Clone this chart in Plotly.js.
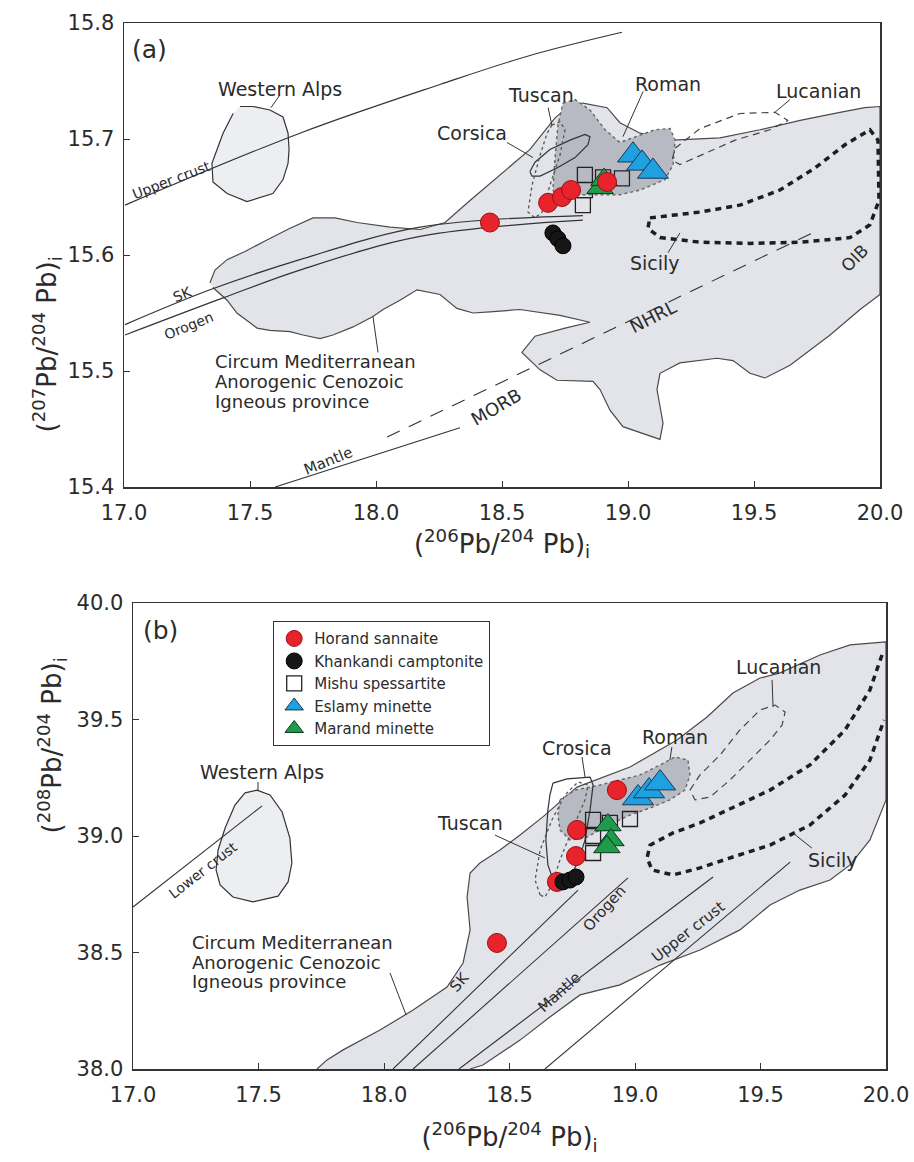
<!DOCTYPE html>
<html><head><meta charset="utf-8">
<script src="https://cdn.plot.ly/plotly-3.0.1.min.js"></script>
<style>html,body{margin:0;padding:0;background:#fff}#chart{width:914px;height:1162px}</style>
</head><body><div id="chart"></div>
<script>
// ---------- Panel (a): 207Pb/204Pb vs 206Pb/204Pb ----------
const fieldA_x = [17.341,17.361,17.409,17.480,17.567,17.659,17.750,17.837,17.925,18.056,18.175,18.274,18.373,18.492,18.611,18.710,18.758,18.821,18.917,18.968,19.048,19.179,19.365,19.524,19.683,19.841,19.940,20.0,
  20.0,19.921,19.802,19.643,19.544,19.484,19.417,19.353,19.206,19.127,19.115,19.139,19.127,18.980,18.929,18.889,18.861,18.718,18.651,18.579,18.631,18.750,18.849,18.730,18.571,18.452,18.385,18.321,18.254,18.163,18.095,18.028,17.988,17.909,17.829,17.778,17.710,17.659,17.579,17.528,17.448,17.409,17.353];
const fieldA_y = [15.576,15.587,15.596,15.603,15.613,15.623,15.632,15.632,15.628,15.624,15.622,15.628,15.647,15.669,15.691,15.718,15.727,15.731,15.727,15.714,15.705,15.699,15.701,15.708,15.716,15.723,15.727,15.728,
  15.566,15.553,15.531,15.505,15.494,15.498,15.509,15.511,15.507,15.498,15.484,15.455,15.441,15.452,15.466,15.484,15.491,15.492,15.501,15.516,15.530,15.537,15.542,15.548,15.553,15.551,15.550,15.554,15.566,15.570,15.561,15.553,15.547,15.538,15.531,15.528,15.531,15.534,15.535,15.537,15.550,15.561,15.572];
const alpsA_x = [17.460,17.512,17.579,17.631,17.651,17.655,17.651,17.631,17.591,17.488,17.409,17.353,17.349,17.369,17.393,17.433];
const alpsA_y = [15.728,15.728,15.725,15.719,15.705,15.691,15.679,15.665,15.653,15.646,15.653,15.663,15.679,15.691,15.705,15.722];
const romanA_x = [18.742,18.790,18.849,18.909,18.968,19.048,19.107,19.167,19.187,19.179,19.147,19.048,18.968,18.889,18.810,18.730,18.702,18.710,18.722,18.742];
const romanA_y = [15.731,15.734,15.725,15.708,15.697,15.703,15.708,15.709,15.699,15.678,15.665,15.656,15.652,15.652,15.652,15.647,15.656,15.682,15.712,15.731];
const corsicaA_x = [18.611,18.631,18.690,18.770,18.829,18.849,18.841,18.790,18.718,18.651,18.619,18.611];
const corsicaA_y = [15.672,15.680,15.691,15.699,15.704,15.702,15.695,15.684,15.675,15.668,15.668,15.672];
const tuscanA_x = [18.698,18.730,18.750,18.730,18.690,18.659,18.631,18.603,18.619,18.651,18.679,18.698];
const tuscanA_y = [15.712,15.715,15.708,15.686,15.660,15.637,15.632,15.637,15.660,15.686,15.705,15.712];
const lucanianA_x = [19.187,19.286,19.444,19.583,19.635,19.563,19.425,19.286,19.206,19.175,19.187];
const lucanianA_y = [15.692,15.709,15.722,15.723,15.716,15.708,15.699,15.686,15.678,15.682,15.692];
const sicilyA_x = [19.087,19.286,19.444,19.603,19.742,19.861,19.960,19.992,19.996,19.960,19.881,19.683,19.484,19.286,19.127,19.079,19.087];
const sicilyA_y = [15.632,15.637,15.643,15.656,15.675,15.695,15.708,15.699,15.647,15.626,15.615,15.611,15.610,15.611,15.615,15.623,15.632];
const upperCrustA_x = [17.004,17.698,18.254,18.611,18.976];
const upperCrustA_y = [15.643,15.705,15.747,15.772,15.792];
const skA_x = [17.004,17.341,17.698,18.175,18.821];
const skA_y = [15.540,15.570,15.596,15.624,15.634];
const orogenA_x = [17.004,17.393,17.698,18.175,18.821];
const orogenA_y = [15.531,15.563,15.587,15.616,15.630];
const mantleA_x = [17.600,18.333];
const mantleA_y = [15.400,15.451];
const nhrlA_x = [18.044,19.742];
const nhrlA_y = [15.443,15.620];
const leadersA_x = [17.583,17.619,null,18.520,18.623,null,18.683,18.698,null,19.060,18.980,null,19.643,19.583,null,19.159,19.206,null,17.988,18.008];
const leadersA_y = [15.727,15.738,null,15.697,15.684,null,15.727,15.712,null,15.741,15.702,null,15.734,15.723,null,15.602,15.619,null,15.547,15.516];

// samples, panel (a)
const horandA_x = [18.452,18.683,18.738,18.774,18.917];
const horandA_y = [15.628,15.645,15.650,15.656,15.663];
const khankandiA_x = [18.702,18.722,18.742];
const khankandiA_y = [15.619,15.614,15.608];
const mishuA_x = [18.829,18.829,18.821,18.901,18.976];
const mishuA_y = [15.669,15.656,15.643,15.667,15.666];
const eslamyA_x = [19.020,19.056,19.099];
const eslamyA_y = [15.686,15.679,15.672];
const marandA_x = [18.889,18.905];
const marandA_y = [15.658,15.665];

// ---------- Panel (b): 208Pb/204Pb vs 206Pb/204Pb ----------
const fieldB_x = [17.733,17.773,17.837,17.984,18.116,18.251,18.315,18.343,18.331,18.343,18.382,18.462,18.542,18.633,18.769,18.980,19.167,19.287,19.390,19.498,19.578,19.737,19.857,20.0,20.0,19.936,19.857,19.777,19.657,19.538,19.418,19.259,19.100,18.940,18.781,18.661,18.542,18.394,18.343];
const fieldB_y = [38.0,38.039,38.082,38.167,38.253,38.352,38.455,38.597,38.738,38.841,38.884,38.940,39.004,39.082,39.210,39.296,39.412,39.511,39.614,39.678,39.700,39.777,39.820,39.833,39.155,38.983,38.876,38.811,38.768,38.704,38.597,38.511,38.446,38.361,38.318,38.223,38.124,38.017,38.0];
const alpsB_x = [17.446,17.494,17.546,17.594,17.625,17.633,17.618,17.578,17.478,17.398,17.347,17.331,17.339,17.367,17.406,17.446];
const alpsB_y = [39.185,39.197,39.176,39.103,38.991,38.884,38.803,38.742,38.717,38.738,38.790,38.854,38.940,39.034,39.133,39.185];
const romanB_x = [18.701,18.761,18.861,18.940,19.020,19.100,19.159,19.211,19.219,19.199,19.139,19.060,18.980,18.920,18.861,18.801,18.741,18.701,18.693,18.701];
const romanB_y = [39.155,39.197,39.219,39.240,39.262,39.305,39.339,39.326,39.262,39.197,39.155,39.120,39.090,39.060,39.026,38.991,38.983,39.026,39.090,39.155];
const crosicaB_x = [18.673,18.729,18.821,18.833,18.821,18.801,18.773,18.725,18.681,18.653,18.645,18.653,18.661,18.673];
const crosicaB_y = [39.227,39.245,39.253,39.219,39.112,38.983,38.888,38.790,38.790,38.876,38.983,39.112,39.176,39.227];
const tuscanB_x = [18.622,18.602,18.622,18.669,18.721,18.773,18.813,18.801,18.749,18.701,18.669,18.641,18.622];
const tuscanB_y = [38.747,38.811,38.940,39.069,39.176,39.232,39.219,39.155,39.026,38.897,38.790,38.738,38.747];
const lucanianB_x = [19.219,19.259,19.339,19.418,19.498,19.558,19.598,19.586,19.538,19.458,19.378,19.299,19.239,19.219];
const lucanianB_y = [39.197,39.262,39.348,39.455,39.541,39.562,39.532,39.476,39.412,39.326,39.240,39.167,39.155,39.197];
const sicilyB_x = [19.984,19.936,19.837,19.697,19.538,19.390,19.259,19.151,19.060,19.048,19.068,19.151,19.259,19.390,19.538,19.697,19.837,19.936,19.992];
const sicilyB_y = [39.777,39.627,39.455,39.305,39.197,39.120,39.056,39.013,38.961,38.906,38.854,38.833,38.863,38.910,38.961,39.047,39.176,39.326,39.498];
const lowerCrustB_x = [17.0,17.514];
const lowerCrustB_y = [38.695,39.129];
const skB_x = [18.036,18.773];
const skB_y = [38.0,38.768];
const orogenB_x = [18.116,18.972];
const orogenB_y = [38.0,38.820];
const mantleB_x = [18.299,19.311];
const mantleB_y = [38.0,38.824];
const upperCrustB_x = [18.641,19.618];
const upperCrustB_y = [38.0,38.888];
const leadersB_x = [17.498,17.498,null,18.789,18.801,null,19.147,19.139,null,19.546,19.550,null,18.442,18.641,null,19.705,19.629,null,18.024,18.088];
const leadersB_y = [39.232,39.193,null,39.339,39.253,null,39.382,39.326,null,39.670,39.554,null,39.004,38.906,null,38.948,39.013,null,38.412,38.232];

// samples, panel (b)
const horandB_x = [18.450,18.689,18.765,18.769,18.928];
const horandB_y = [38.541,38.803,38.914,39.026,39.197];
const khankandiB_x = [18.713,18.741,18.765];
const khankandiB_y = [38.803,38.811,38.824];
const mishuB_x = [18.833,18.833,18.833,18.900,18.980];
const mishuB_y = [39.069,39.000,38.927,39.056,39.073];
const eslamyB_x = [19.012,19.056,19.100];
const eslamyB_y = [39.163,39.193,39.227];
const marandB_x = [18.892,18.904,18.888];
const marandB_y = [39.047,38.983,38.953];

const tickVals = [17.0,17.5,18.0,18.5,19.0,19.5,20.0];
const tickText = ['17.0','17.5','18.0','18.5','19.0','19.5','20.0'];
const yTickValsA = [15.4,15.5,15.6,15.7,15.8];
const yTickTextA = ['15.4','15.5','15.6','15.7','15.8'];
const yTickValsB = [38.0,38.5,39.0,39.5,40.0];
const yTickTextB = ['38.0','38.5','39.0','39.5','40.0'];

const legendNames = ['Horand sannaite','Khankandi camptonite','Mishu spessartite','Eslamy minette','Marand minette'];

// ---------- drawing ----------
const FONT = 'DejaVu Sans, Verdana, sans-serif';
const TXT = '#2b2b2b';
function poly(x, y, xa, ya, fill, line) {
  return {type:'scatter', mode:'lines', x:x, y:y, xaxis:xa, yaxis:ya,
    fill: fill ? 'toself' : 'none', fillcolor: fill || undefined,
    line: line, hoverinfo:'skip', showlegend:false};
}
function ln(x, y, xa, ya, line) {
  return {type:'scatter', mode:'lines', x:x, y:y, xaxis:xa, yaxis:ya, line:line, hoverinfo:'skip', showlegend:false, connectgaps:false};
}
const styles = [
  {symbol:'circle', size:19, color:'#e8232b', line:{color:'#9a1015', width:1}},
  {symbol:'circle', size:16, color:'#161616', line:{color:'#000', width:1}},
  {symbol:'square-open', size:15, color:'#222', line:{color:'#222', width:1.3}},
  {symbol:'triangle-up', size:27, color:'#1fa0e0', line:{color:'#173a55', width:1}},
  {symbol:'triangle-up', size:23, color:'#1e9b4b', line:{color:'#0d3a1d', width:1}}
];
function pts(x, y, xa, ya, i, show) {
  return {type:'scatter', mode:'markers', x:x, y:y, xaxis:xa, yaxis:ya, name:legendNames[i],
    marker:styles[i], showlegend:show, hoverinfo:'skip'};
}
const edge = {color:'#4a4a4a', width:1.2};
const traces = [
  poly(fieldA_x, fieldA_y, 'x', 'y', '#e2e4ea', edge),
  poly(alpsA_x, alpsA_y, 'x', 'y', '#eceef2', {color:'#333', width:1.2}),
  poly(romanA_x, romanA_y, 'x', 'y', '#b7bac2', {color:'#666', width:1.4, dash:'dot'}),
  poly(corsicaA_x, corsicaA_y, 'x', 'y', null, {color:'#333', width:1.2}),
  poly(tuscanA_x, tuscanA_y, 'x', 'y', null, {color:'#555', width:1.3, dash:'dot'}),
  poly(lucanianA_x, lucanianA_y, 'x', 'y', null, {color:'#444', width:1.2, dash:'7px,5px'}),
  poly(sicilyA_x, sicilyA_y, 'x', 'y', null, {color:'#1e1e1e', width:3.5, dash:'6px,5px'}),
  ln(upperCrustA_x, upperCrustA_y, 'x', 'y', {color:'#333', width:1.1, shape:'spline'}),
  ln(skA_x, skA_y, 'x', 'y', {color:'#333', width:1.2, shape:'spline'}),
  ln(orogenA_x, orogenA_y, 'x', 'y', {color:'#333', width:1.2, shape:'spline'}),
  ln(mantleA_x, mantleA_y, 'x', 'y', {color:'#333', width:1.1}),
  ln(nhrlA_x, nhrlA_y, 'x', 'y', {color:'#333', width:1.1, dash:'14px,10px'}),
  ln(leadersA_x, leadersA_y, 'x', 'y', {color:'#333', width:1}),
  pts(khankandiA_x, khankandiA_y, 'x', 'y', 1, false),
  pts(mishuA_x, mishuA_y, 'x', 'y', 2, false),
  pts(marandA_x, marandA_y, 'x', 'y', 4, false),
  pts(horandA_x, horandA_y, 'x', 'y', 0, false),
  pts(eslamyA_x, eslamyA_y, 'x', 'y', 3, false),

  poly(fieldB_x, fieldB_y, 'x2', 'y2', '#e2e4ea', edge),
  poly(alpsB_x, alpsB_y, 'x2', 'y2', '#eceef2', {color:'#333', width:1.2}),
  poly(romanB_x, romanB_y, 'x2', 'y2', '#b7bac2', {color:'#666', width:1.4, dash:'dot'}),
  poly(crosicaB_x, crosicaB_y, 'x2', 'y2', null, {color:'#333', width:1.2}),
  poly(tuscanB_x, tuscanB_y, 'x2', 'y2', null, {color:'#555', width:1.3, dash:'dot'}),
  poly(lucanianB_x, lucanianB_y, 'x2', 'y2', null, {color:'#444', width:1.2, dash:'7px,5px'}),
  ln(sicilyB_x, sicilyB_y, 'x2', 'y2', {color:'#1e1e1e', width:3.5, dash:'6px,5px'}),
  ln(lowerCrustB_x, lowerCrustB_y, 'x2', 'y2', {color:'#333', width:1.1}),
  ln(skB_x, skB_y, 'x2', 'y2', {color:'#333', width:1.1}),
  ln(orogenB_x, orogenB_y, 'x2', 'y2', {color:'#333', width:1.1}),
  ln(mantleB_x, mantleB_y, 'x2', 'y2', {color:'#333', width:1.1}),
  ln(upperCrustB_x, upperCrustB_y, 'x2', 'y2', {color:'#333', width:1.1}),
  ln(leadersB_x, leadersB_y, 'x2', 'y2', {color:'#333', width:1}),
  pts(horandB_x, horandB_y, 'x2', 'y2', 0, true),
  pts(khankandiB_x, khankandiB_y, 'x2', 'y2', 1, true),
  pts(mishuB_x, mishuB_y, 'x2', 'y2', 2, true),
  pts(eslamyB_x, eslamyB_y, 'x2', 'y2', 3, true),
  pts(marandB_x, marandB_y, 'x2', 'y2', 4, true)
];

function lab(text, x, y, xa, ya, size, angle, extra) {
  return Object.assign({text:text, x:x, y:y, xref:xa, yref:ya, showarrow:false,
    font:{family:FONT, size:size, color:TXT}, textangle:angle || 0}, extra || {});
}
const L = {xanchor:'left'};
const annotations = [
  // y-axis titles
  lab('(<sup>207</sup>Pb/<sup>204</sup> Pb)<sub>i</sub>', 27/914, 1-255/1162, 'paper', 'paper', 26, -90),
  lab('(<sup>208</sup>Pb/<sup>204</sup> Pb)<sub>i</sub>', 31/914, 1-836/1162, 'paper', 'paper', 26, -90),

  lab('(a)', 17.103, 15.777, 'x', 'y', 25),
  lab('Western Alps', 17.619, 15.743, 'x', 'y', 19),
  lab('Upper crust', 17.187, 15.665, 'x', 'y', 14, -21),
  lab('Corsica', 18.381, 15.705, 'x', 'y', 19),
  lab('Tuscan', 18.655, 15.738, 'x', 'y', 19),
  lab('Roman', 19.159, 15.747, 'x', 'y', 19),
  lab('Lucanian', 19.754, 15.741, 'x', 'y', 19),
  lab('Sicily', 19.107, 15.593, 'x', 'y', 19),
  lab('OIB', 19.901, 15.597, 'x', 'y', 17, -45),
  lab('NHRL', 19.099, 15.547, 'x', 'y', 18, -27),
  lab('MORB', 18.480, 15.469, 'x', 'y', 18, -30),
  lab('Mantle', 17.810, 15.422, 'x', 'y', 15, -22),
  lab('SK', 17.234, 15.566, 'x', 'y', 14, -22),
  lab('Orogen', 17.254, 15.539, 'x', 'y', 14, -22),
  lab('Circum Mediterranean', 17.353, 15.508, 'x', 'y', 18, 0, L),
  lab('Anorogenic Cenozoic', 17.353, 15.491, 'x', 'y', 18, 0, L),
  lab('Igneous province', 17.353, 15.474, 'x', 'y', 18, 0, L),

  lab('(b)', 17.108, 39.884, 'x2', 'y2', 25),
  lab('Western Alps', 17.514, 39.275, 'x2', 'y2', 19),
  lab('Lower crust', 17.279, 38.854, 'x2', 'y2', 14, -38),
  lab('Crosica', 18.769, 39.378, 'x2', 'y2', 19),
  lab('Roman', 19.159, 39.425, 'x2', 'y2', 19),
  lab('Lucanian', 19.570, 39.725, 'x2', 'y2', 19),
  lab('Tuscan', 18.343, 39.056, 'x2', 'y2', 19),
  lab('Sicily', 19.789, 38.897, 'x2', 'y2', 19),
  lab('SK', 18.300, 38.375, 'x2', 'y2', 15, -50),
  lab('Orogen', 18.880, 38.690, 'x2', 'y2', 15, -48),
  lab('Mantle', 18.700, 38.330, 'x2', 'y2', 15, -42),
  lab('Upper crust', 19.210, 38.590, 'x2', 'y2', 15, -38),
  lab('Circum Mediterranean', 17.227, 38.541, 'x2', 'y2', 18, 0, L),
  lab('Anorogenic Cenozoic', 17.227, 38.459, 'x2', 'y2', 18, 0, L),
  lab('Igneous province', 17.227, 38.377, 'x2', 'y2', 18, 0, L)
];

function xAxis(domain, anchor, title, standoff) {
  return {domain:domain, anchor:anchor, range:[17,20], tickvals:tickVals, ticktext:tickText,
    ticks:'inside', ticklen:6, tickcolor:'#333', showline:true, linecolor:'#333', linewidth:1.5,
    mirror:true, showgrid:false, zeroline:false, ticklabelstandoff:6,
    tickfont:{family:FONT, size:21, color:TXT},
    title:{text:title, font:{family:FONT, size:26, color:TXT}, standoff:standoff}};
}
function yAxis(domain, anchor, range, vals, text) {
  return {domain:domain, anchor:anchor, range:range, tickvals:vals, ticktext:text,
    ticks:'inside', ticklen:6, tickcolor:'#333', showline:true, linecolor:'#333', linewidth:1.5,
    mirror:true, showgrid:false, zeroline:false, ticklabelstandoff:4,
    tickfont:{family:FONT, size:21, color:TXT}};
}
const layout = {
  width:914, height:1162, margin:{l:0, r:0, t:0, b:0},
  paper_bgcolor:'#fff', plot_bgcolor:'#fff', font:{family:FONT, color:TXT},
  xaxis: xAxis([124/914, 880/914], 'y', '(<sup>206</sup>Pb/<sup>204</sup> Pb)<sub>i</sub>', 6),
  yaxis: yAxis([1-487/1162, 1-23/1162], 'x', [15.4,15.8], yTickValsA, yTickTextA),
  xaxis2: xAxis([133/914, 886/914], 'y2', '(<sup>206</sup>Pb/<sup>204</sup> Pb)<sub>i</sub>', 22),
  yaxis2: yAxis([1-1069/1162, 1-603/1162], 'x2', [38,40], yTickValsB, yTickTextB),
  showlegend:true,
  legend:{x:273/914, y:1-621/1162, xanchor:'left', yanchor:'top', bgcolor:'#fff',
    bordercolor:'#333', borderwidth:1.2, font:{family:FONT, size:15, color:TXT},
    traceorder:'normal', itemsizing:'trace', tracegroupgap:0},
  annotations: annotations
};
Plotly.newPlot('chart', traces, layout, {staticPlot:true, displayModeBar:false});
</script>
</body></html>
